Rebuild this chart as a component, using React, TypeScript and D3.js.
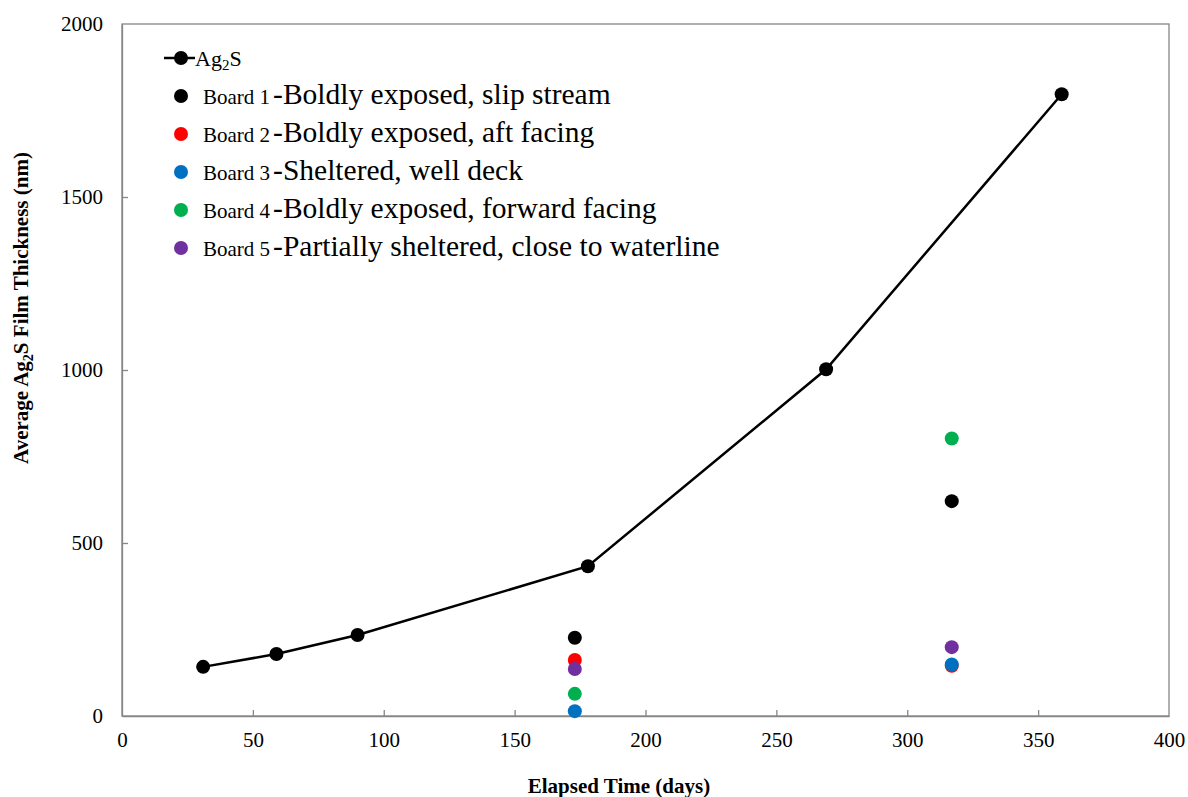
import React, { useEffect, useRef } from "react";
import * as d3 from "d3";

const W = 1188;
const H = 797;

// Ag2S line series
const lineDays = [31, 59, 90, 178, 269, 359];
const lineThk = [142, 179, 234, 433, 1002, 1797];

// board scatter (two sampling times)
const boardDays = [173, 317];
const boardNames = ["Board 1", "Board 2", "Board 3", "Board 4", "Board 5"];
const boardDesc = [
  "-Boldly exposed, slip stream",
  "-Boldly exposed, aft facing",
  "-Sheltered, well deck",
  "-Boldly exposed, forward facing",
  "-Partially sheltered, close to waterline",
];
const boardColors = ["#000000", "#ff0000", "#0070c0", "#00b050", "#7030a0"];
const boardVals = [
  [226, 621], // board 1
  [162, 145], // board 2
  [14, 149], // board 3
  [64, 802], // board 4
  [136, 199], // board 5
];

const xTicks = [0, 50, 100, 150, 200, 250, 300, 350, 400];
const yTicks = [0, 500, 1000, 1500, 2000];

const FONT = "'Liberation Serif', 'Times New Roman', serif";

export default function App() {
  const ref = useRef<SVGSVGElement>(null);

  useEffect(() => {
    const svg = d3.select(ref.current);
    svg.selectAll("*").remove();

    const m = { left: 122, right: 1169, top: 24, bottom: 716 };
    const x = d3.scaleLinear().domain([0, 400]).range([m.left, m.right]);
    const y = d3.scaleLinear().domain([0, 2000]).range([m.bottom, m.top]);
    const axisCol = "#868686";

    // frame
    svg
      .append("rect")
      .attr("x", m.left)
      .attr("y", m.top)
      .attr("width", m.right - m.left)
      .attr("height", m.bottom - m.top)
      .attr("fill", "none")
      .attr("stroke", axisCol)
      .attr("stroke-width", 1.3);

    // ticks (inside)
    const gx = svg.append("g").attr("transform", `translate(0,${m.bottom})`);
    gx.call(
      d3
        .axisBottom(x)
        .tickValues(xTicks)
        .tickSizeInner(-6)
        .tickSizeOuter(0)
        .tickPadding(16)
        .tickFormat(d3.format("d"))
    );
    const gy = svg.append("g").attr("transform", `translate(${m.left},0)`);
    gy.call(
      d3
        .axisLeft(y)
        .tickValues(yTicks)
        .tickSizeInner(-6)
        .tickSizeOuter(0)
        .tickPadding(19)
        .tickFormat(d3.format("d"))
    );
    [gx, gy].forEach((g) => {
      g.attr("font-family", FONT).attr("font-size", 21);
      g.select(".domain").attr("stroke", axisCol).attr("stroke-width", 1.3);
      g.selectAll(".tick line").attr("stroke", axisCol).attr("stroke-width", 1.3);
      g.selectAll(".tick text")
        .attr("fill", "#000")
        .style("font-family", FONT)
        .style("font-size", "21px");
    });
    gx.selectAll(".tick line").filter((d: any) => d === 0 || d === 400).remove();
    gy.selectAll(".tick line").filter((d: any) => d === 0 || d === 2000).remove();

    // axis titles
    svg
      .append("text")
      .attr("x", 619)
      .attr("y", 793)
      .attr("text-anchor", "middle")
      .style("font-family", FONT)
      .style("font-size", "21px")
      .style("font-weight", "bold")
      .text("Elapsed Time (days)");

    const yt = svg
      .append("text")
      .attr("transform", `translate(28,308) rotate(-90)`)
      .attr("text-anchor", "middle")
      .style("font-family", FONT)
      .style("font-size", "21px")
      .style("font-weight", "bold");
    yt.append("tspan").text("Average Ag");
    yt.append("tspan").attr("dy", 5).style("font-size", "14px").text("2");
    yt.append("tspan").attr("dy", -5).text("S Film Thickness (nm)");

    // Ag2S line
    const pts = lineDays.map((d, i) => [d, lineThk[i]] as [number, number]);
    svg
      .append("path")
      .datum(pts)
      .attr("fill", "none")
      .attr("stroke", "#000")
      .attr("stroke-width", 2.5)
      .attr(
        "d",
        d3
          .line<[number, number]>()
          .x((d) => x(d[0]))
          .y((d) => y(d[1]))
      );
    svg
      .append("g")
      .selectAll("circle")
      .data(pts)
      .join("circle")
      .attr("cx", (d) => x(d[0]))
      .attr("cy", (d) => y(d[1]))
      .attr("r", 7)
      .attr("fill", "#000");

    // boards
    boardVals.forEach((vals, b) => {
      svg
        .append("g")
        .selectAll("circle")
        .data(vals)
        .join("circle")
        .attr("cx", (_, i) => x(boardDays[i]))
        .attr("cy", (d) => y(d))
        .attr("r", 7)
        .attr("fill", boardColors[b]);
    });

    // legend
    const lg = svg.append("g");
    const lx = 181;
    lg.append("line")
      .attr("x1", lx - 17)
      .attr("x2", lx + 14)
      .attr("y1", 58)
      .attr("y2", 58)
      .attr("stroke", "#000")
      .attr("stroke-width", 2.5);
    lg.append("circle").attr("cx", lx).attr("cy", 58).attr("r", 7).attr("fill", "#000");
    const t0 = lg
      .append("text")
      .attr("x", 195)
      .attr("y", 66)
      .style("font-family", FONT)
      .style("font-size", "22px");
    t0.append("tspan").text("Ag");
    t0.append("tspan").attr("dy", 4).style("font-size", "15px").text("2");
    t0.append("tspan").attr("dy", -4).text("S");

    boardNames.forEach((nm, i) => {
      const cy = 96 + i * 38;
      lg.append("circle").attr("cx", lx).attr("cy", cy).attr("r", 7).attr("fill", boardColors[i]);
      const t = lg
        .append("text")
        .attr("x", 203)
        .attr("y", cy + 8)
        .style("font-family", FONT)
        .style("font-size", "21px");
      t.append("tspan").text(nm);
      t.append("tspan").attr("dx", 3).style("font-size", "29.5px").text(boardDesc[i]);
    });
  }, []);

  return (
    <svg
      ref={ref}
      width={W}
      height={H}
      style={{ position: "absolute", left: 0, top: 0, background: "#fff" }}
    />
  );
}
